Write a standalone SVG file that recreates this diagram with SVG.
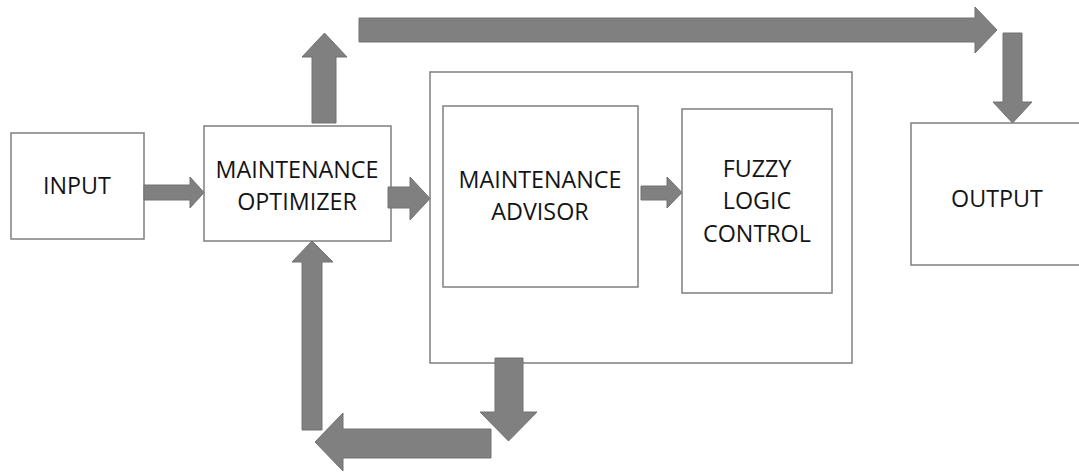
<svg xmlns="http://www.w3.org/2000/svg" width="1079" height="472" viewBox="0 0 1079 472">
  <style>
    .box { fill: #ffffff; stroke: #7f7f7f; stroke-width: 1.5; }
    .lbl { font-family: "Open Sans", "Liberation Sans", sans-serif; font-size: 23.3px; fill: #141414; text-anchor: middle; }
    .arrow { fill: #808080; stroke: #727272; stroke-width: 1; }
  </style>
  <rect width="1079" height="472" fill="#ffffff"/>

  <!-- container around advisor and fuzzy logic -->
  <g id="advisor-group">
    <rect class="box" x="430" y="72" width="422" height="291"/>
  </g>

  <g id="input">
    <rect class="box" x="11" y="133" width="133" height="106"/>
    <text class="lbl" x="77" y="194">INPUT</text>
  </g>

  <g id="optimizer">
    <rect class="box" x="204" y="126" width="187" height="115"/>
    <text class="lbl" x="297" y="178">MAINTENANCE</text>
    <text class="lbl" x="297" y="210">OPTIMIZER</text>
  </g>

  <g id="advisor">
    <rect class="box" x="443" y="106" width="195" height="181"/>
    <text class="lbl" x="540" y="188">MAINTENANCE</text>
    <text class="lbl" x="540" y="220">ADVISOR</text>
  </g>

  <g id="fuzzy">
    <rect class="box" x="682" y="109" width="150" height="184"/>
    <text class="lbl" x="757" y="177">FUZZY</text>
    <text class="lbl" x="757" y="209">LOGIC</text>
    <text class="lbl" x="757" y="242">CONTROL</text>
  </g>

  <g id="output">
    <rect class="box" x="911" y="123" width="180" height="142"/>
    <text class="lbl" x="997" y="207">OUTPUT</text>
  </g>

  <!-- block arrows -->
  <g id="connectors">
    <polygon class="arrow" points="144,185 190,185 190,177 204,192.5 190,208 190,200 144,200"/>
    <polygon class="arrow" points="312,123 312,57 302,57 324.5,33 347,57 336,57 336,123"/>
    <polygon class="arrow" points="359,18 975,18 975,7 997,30 975,53 975,42 359,42"/>
    <polygon class="arrow" points="1003,33 1022,33 1022,102 1032,102 1012.5,123 993,102 1003,102"/>
    <polygon class="arrow" points="388,187 410,187 410,177 430,198.5 410,220 410,208 388,208"/>
    <polygon class="arrow" points="641,186 667,186 667,177 682,192.5 667,208 667,200 641,200"/>
    <polygon class="arrow" points="495,358 523,358 523,412 537,412 508.5,441 480,412 495,412"/>
    <polygon class="arrow" points="491,429 343,429 343,413 315,442 343,471 343,458 491,458"/>
    <polygon class="arrow" points="302,430 302,262 292,262 312,241 333,262 322,262 322,430"/>
  </g>
</svg>
